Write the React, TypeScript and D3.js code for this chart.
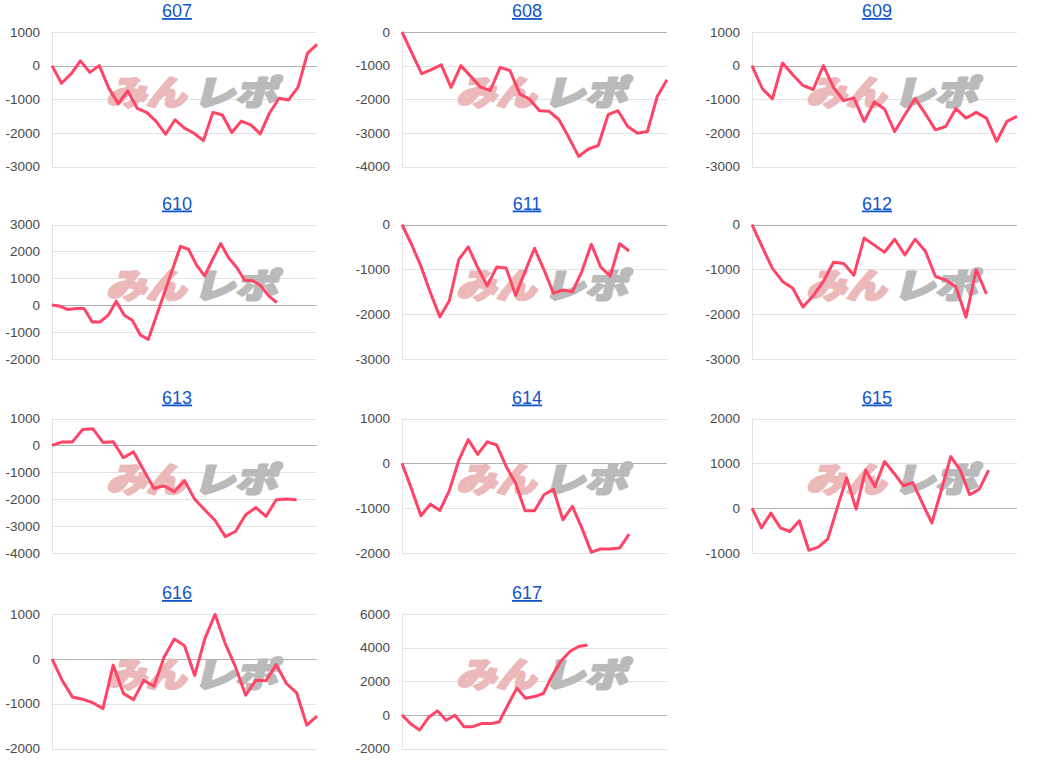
import React from "react";
import * as d3 from "d3";

const titles = ["607", "608", "609", "610", "611", "612", "613", "614", "615", "616", "617"];

const s607 = [0, -525, -250, 140, -200, 0, -670, -1130, -750, -1270, -1390, -1660, -2040, -1610, -1860, -2010, -2230, -1390, -1470, -1990, -1650, -1760, -2030, -1400, -970, -1020, -640, 370, 630];
const s608 = [0, -620, -1240, -1120, -975, -1650, -1000, -1320, -1640, -1740, -1050, -1150, -1840, -2000, -2340, -2360, -2610, -3140, -3700, -3480, -3370, -2460, -2340, -2810, -3010, -2960, -1920, -1420];
const s609 = [0, -680, -990, 80, -270, -590, -710, 0, -650, -1040, -960, -1660, -1080, -1290, -1960, -1460, -980, -1430, -1910, -1810, -1280, -1560, -1390, -1560, -2250, -1660, -1510];
const s610 = [10, -40, -160, -120, -120, -620, -620, -370, 150, -370, -560, -1110, -1270, -405, 460, 1325, 2190, 2080, 1490, 1090, 1700, 2290, 1760, 1400, 930, 910, 720, 335, 100, null, null, null, null, null];
const s611 = [0, -440, -930, -1520, -2060, -1700, -780, -500, -960, -1370, -950, -970, -1580, -1050, -530, -1010, -1530, -1460, -1500, -1050, -440, -950, -1150, -430, -590, null, null, null, null];
const s612 = [0, -500, -980, -1270, -1420, -1840, -1590, -1270, -840, -870, -1130, -300, -460, -620, -330, -680, -330, -590, -1160, -1240, -1390, -2070, -1010, -1550, null, null, null];
const s613 = [0, 130, 130, 590, 620, 110, 140, -460, -240, -920, -1600, -1500, -1720, -1310, -2000, -2400, -2790, -3390, -3200, -2580, -2310, -2640, -2020, -1990, -2020, null, null];
const s614 = [0, -570, -1170, -910, -1050, -610, 70, 530, 200, 480, 410, -70, -440, -1060, -1060, -700, -580, -1260, -960, -1440, -1980, -1910, -1910, -1890, -1580, null, null, null, null];
const s615 = [0, -440, -110, -440, -520, -280, -940, -870, -690, 0, 680, -20, 850, 480, 1040, 780, 500, 570, 110, -330, 400, 1150, 850, 300, 420, 850, null, null, null];
const s616 = [0, -480, -850, -900, -980, -1110, -140, -770, -910, -480, -610, 40, 440, 290, -370, 450, 990, 340, -180, -810, -480, -490, -130, -550, -760, -1480, -1280];
const s617 = [0, -540, -900, -160, 240, -320, -20, -700, -700, -520, -520, -420, 600, 1590, 990, 1090, 1270, 2320, 3210, 3770, 4070, 4150, null, null, null, null, null, null, null, null, null];

const allSeries: (number | null)[][] = [s607, s608, s609, s610, s611, s612, s613, s614, s615, s616, s617];

const yMins = [-3000, -4000, -3000, -2000, -3000, -3000, -4000, -2000, -1000, -2000, -2000];
const yMaxs = [1000, 0, 1000, 3000, 0, 0, 1000, 1000, 2000, 1000, 6000];
const ySteps = [1000, 1000, 1000, 1000, 1000, 1000, 1000, 1000, 1000, 1000, 2000];

const COL_CENTERS = [177, 527, 877];
const ROW_TOPS = [32, 224.5, 418.5, 614];
const PLOT_H = 134.5;
const LINE_COLOR = "#ff4466";

function Panel({ i }: { i: number }) {
  const col = i % 3;
  const row = Math.floor(i / 3);
  const cx = COL_CENTERS[col];
  const x0 = cx - 125;
  const x1 = cx + 140;
  const top = ROW_TOPS[row];
  const bottom = top + PLOT_H;
  const data = allSeries[i];
  const x = d3.scaleLinear().domain([0, data.length - 1]).range([x0, x1]);
  const y = d3.scaleLinear().domain([yMins[i], yMaxs[i]]).range([bottom, top]);
  const ticks = d3.range(yMins[i], yMaxs[i] + 1, ySteps[i]);
  const line = d3
    .line<number | null>()
    .defined((d) => d != null)
    .x((_, j) => x(j))
    .y((d) => y(d as number));
  const wmx = (x0 + x1) / 2 + 10;
  const wmy = (top + bottom) / 2 - 7;
  return (
    <g>
      <text
        x={cx}
        y={top - 15}
        textAnchor="middle"
        fontFamily="Arial, 'Liberation Sans', sans-serif"
        fontSize={18}
        fill="#1155cc"
        style={{ textDecoration: "underline" }}
      >
        {titles[i]}
      </text>
      {ticks.map((t) => (
        <line
          key={"g" + t}
          x1={x0}
          x2={x1}
          y1={Math.round(y(t)) + 0.5}
          y2={Math.round(y(t)) + 0.5}
          stroke={t === 0 ? "#b0b0b0" : "#e2e2e2"}
          strokeWidth={1}
        />
      ))}
      <line x1={Math.round(x0) + 0.5} x2={Math.round(x0) + 0.5} y1={top} y2={bottom} stroke="#e2e2e2" strokeWidth={1} />
      {ticks.map((t) => (
        <text
          key={"t" + t}
          x={x0 - 12}
          y={y(t)}
          dy="0.35em"
          textAnchor="end"
          fontFamily="Arial, 'Liberation Sans', sans-serif"
          fontSize={13.5}
          fill="#4a4a4a"
        >
          {t}
        </text>
      ))}
      <g
        transform={`translate(${wmx},${wmy}) skewX(-14)`}
        fontFamily="'Noto Sans CJK JP', sans-serif"
        fontWeight={900}
        fontSize={34}
        strokeWidth={2.5}
        strokeLinejoin="round"
      >
        <text x={-85} y={13} fill="#ebb9b9" stroke="#ebb9b9" textLength={80} lengthAdjust="spacingAndGlyphs">
          みん
        </text>
        <text x={2} y={13} fill="#bababa" stroke="#bababa" textLength={84} lengthAdjust="spacingAndGlyphs">
          レポ
        </text>
      </g>
      <path d={line(data) || ""} fill="none" stroke={LINE_COLOR} strokeWidth={3} strokeLinejoin="round" />
    </g>
  );
}

export default function App() {
  return (
    <svg width={1050} height={776} style={{ position: "absolute", left: 0, top: 0, background: "#fff" }}>
      {allSeries.map((_, i) => (
        <Panel key={i} i={i} />
      ))}
    </svg>
  );
}
